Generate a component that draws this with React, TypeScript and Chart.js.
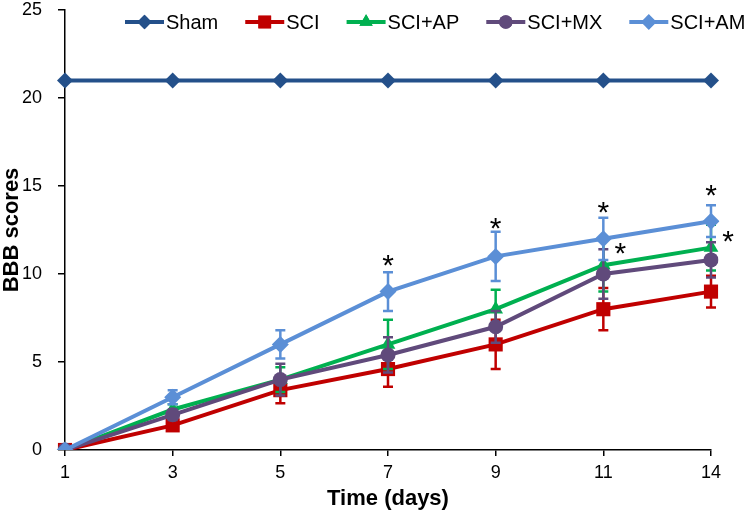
import React, { useEffect, useRef } from 'react';
import { Chart, registerables } from 'chart.js';
import { drawPoint } from 'chart.js/helpers';

Chart.register(...registerables);

const days = ['1', '3', '5', '7', '9', '11', '14'];
const sham = [21, 21, 21, 21, 21, 21, 21];
const sci = [0, 1.4, 3.4, 4.6, 6.0, 8.0, 9.0];
const sciErr = [0, 0.3, 0.75, 1.0, 1.4, 1.2, 0.9];
const sciAP = [0, 2.3, 4.0, 6.0, 8.0, 10.5, 11.5];
const apErr = [0, 0.3, 0.7, 1.4, 1.1, 1.5, 1.3];
const sciMX = [0, 2.0, 4.0, 5.4, 7.0, 10.0, 10.8];
const mxErr = [0, 0.3, 0.9, 1.0, 0.9, 1.4, 1.0];
const sciAM = [0, 3.0, 6.0, 9.0, 11.0, 12.0, 13.0];
const amErr = [0, 0.4, 0.8, 1.1, 1.4, 1.2, 0.9];
const yTicks = [0, 5, 10, 15, 20, 25];

// significance markers
const sigDays = ['7', '9', '11', '14', '11', '14'];
const sigLevels = [10.9, 13.0, 13.9, 14.9, 11.6, 12.3];
const sigSide = [false, false, false, false, true, true];

const FONT = 'Arial, "Liberation Sans", sans-serif';

const series = [
  { label: 'Sham', data: sham, err: null as number[] | null, color: '#24508A', style: 'rectRot', radius: 8, order: 4 },
  { label: 'SCI', data: sci, err: sciErr, color: '#C00000', style: 'rect', radius: 10, order: 3 },
  { label: 'SCI+AP', data: sciAP, err: apErr, color: '#00B050', style: 'triangle', radius: 8.5, order: 2 },
  { label: 'SCI+MX', data: sciMX, err: mxErr, color: '#604A7B', style: 'circle', radius: 7.5, order: 1 },
  { label: 'SCI+AM', data: sciAM, err: amErr, color: '#5B8FD6', style: 'rectRot', radius: 8.5, order: 0 },
];

const errorBarPlugin = {
  id: 'errorBars',
  beforeDatasetDraw(chart: any, args: any) {
    const s = series[args.index];
    if (!s || !s.err) return;
    const ctx = chart.ctx;
    const y = chart.scales.y;
    const meta = args.meta;
    ctx.save();
    ctx.strokeStyle = s.color;
    ctx.lineWidth = 2.5;
    meta.data.forEach((pt: any, i: number) => {
      const e = s.err![i];
      if (!e) return;
      const v = s.data[i];
      const x = pt.x;
      const yt = y.getPixelForValue(v + e);
      const yb = y.getPixelForValue(v - e);
      ctx.beginPath();
      ctx.moveTo(x, yt);
      ctx.lineTo(x, yb);
      ctx.moveTo(x - 5, yt);
      ctx.lineTo(x + 5, yt);
      ctx.moveTo(x - 5, yb);
      ctx.lineTo(x + 5, yb);
      ctx.stroke();
    });
    ctx.restore();
  },
};

const decorPlugin = {
  id: 'decor',
  afterDraw(chart: any) {
    const ctx = chart.ctx;
    const xs = chart.scales.x;
    const ys = chart.scales.y;
    ctx.save();
    // legend
    ctx.font = `20px ${FONT}`;
    ctx.textBaseline = 'middle';
    ctx.textAlign = 'left';
    let lx = 125;
    const ly = 22;
    series.forEach((s) => {
      ctx.strokeStyle = s.color;
      ctx.lineWidth = 4;
      ctx.beginPath();
      ctx.moveTo(lx, ly);
      ctx.lineTo(lx + 39, ly);
      ctx.stroke();
      ctx.fillStyle = s.color;
      drawPoint(ctx, { pointStyle: s.style, radius: s.radius * 0.9, rotation: 0, borderWidth: 0 } as any, lx + 19.5, ly);
      ctx.fill();
      ctx.fillStyle = '#000';
      ctx.fillText(s.label, lx + 41, ly + 1);
      lx += 41 + ctx.measureText(s.label).width + 27;
    });
    // axis titles
    ctx.font = `bold 22px ${FONT}`;
    ctx.fillStyle = '#000';
    ctx.textAlign = 'center';
    ctx.textBaseline = 'middle';
    ctx.fillText('Time (days)', (chart.chartArea.left + chart.chartArea.right) / 2, 499);
    ctx.save();
    ctx.translate(12, (chart.chartArea.top + chart.chartArea.bottom) / 2);
    ctx.rotate(-Math.PI / 2);
    ctx.fillText('BBB scores', 0, 0);
    ctx.restore();
    // asterisks
    ctx.font = `30px ${FONT}`;
    ctx.textAlign = 'center';
    ctx.textBaseline = 'alphabetic';
    sigDays.forEach((d, i) => {
      const x = xs.getPixelForValue(days.indexOf(d)) + (sigSide[i] ? 17 : 0);
      const y = ys.getPixelForValue(sigLevels[i]);
      ctx.fillText('*', x, y + 30 * 0.57);
    });
    ctx.restore();
  },
};

export default function App() {
  const ref = useRef<HTMLCanvasElement | null>(null);
  useEffect(() => {
    if (!ref.current) return;
    const chart = new Chart(ref.current, {
      type: 'line',
      data: {
        labels: days,
        datasets: series.map((s) => ({
          label: s.label,
          data: s.data,
          borderColor: s.color,
          backgroundColor: s.color,
          pointBackgroundColor: s.color,
          pointBorderColor: s.color,
          pointBorderWidth: 0,
          pointStyle: s.style as any,
          pointRadius: s.radius,
          borderWidth: 4,
          tension: 0,
          order: s.order,
        })),
      },
      options: {
        responsive: false,
        animation: false,
        layout: { padding: { top: 10, right: 39, left: 0, bottom: 0 } },
        plugins: { legend: { display: false }, tooltip: { enabled: false } },
        scales: {
          x: {
            type: 'category',
            offset: false,
            grid: { drawOnChartArea: false, drawTicks: true, tickLength: 6, color: '#000', lineWidth: 1.5 },
            border: { display: true, color: '#000', width: 1.5 },
            ticks: { color: '#000', font: { size: 18, family: FONT }, padding: 6, maxRotation: 0, autoSkip: false },
            afterFit: (scale: any) => { scale.height = 66; scale.paddingLeft = 0; scale.paddingRight = 0; },
          },
          y: {
            min: 0,
            max: 25,
            afterBuildTicks: (scale: any) => { scale.ticks = yTicks.map((v) => ({ value: v })); },
            grid: { drawOnChartArea: false, drawTicks: true, tickLength: 7, color: '#000', lineWidth: 1.5 },
            border: { display: true, color: '#000', width: 1.5 },
            ticks: { color: '#000', font: { size: 18, family: FONT }, padding: 16 },
            afterFit: (scale: any) => { scale.width = 65; scale.paddingTop = 0; scale.paddingBottom = 0; },
          },
        },
      },
      plugins: [errorBarPlugin, decorPlugin],
    } as any);
    return () => chart.destroy();
  }, []);
  return (
    <div style={{ position: 'fixed', left: 0, top: 0, width: 750, height: 516, background: '#fff' }}>
      <canvas ref={ref} width={750} height={516} style={{ display: 'block' }} />
    </div>
  );
}
